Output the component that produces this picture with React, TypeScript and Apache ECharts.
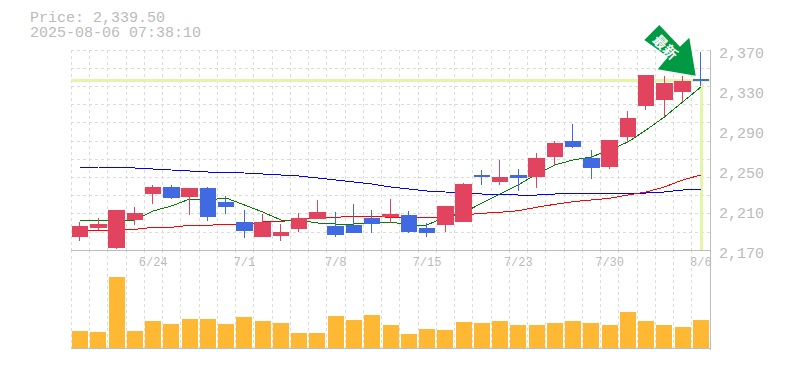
import React, { useEffect, useRef } from "react";
import * as echarts from "echarts";

const categories = ["6/18","6/19","6/20","6/23","6/24","6/25","6/26","6/27","6/30","7/1","7/2","7/3","7/4","7/7","7/8","7/9","7/10","7/11","7/14","7/15","7/16","7/17","7/18","7/22","7/23","7/24","7/25","7/28","7/29","7/30","7/31","8/1","8/4","8/5","8/6"];
const shownLabels = ["6/24","7/1","7/8","7/15","7/23","7/30","8/6"];
// open, close, low, high
const ohlc = [
  [2184,2194,2179,2198],[2193,2196,2190,2202],[2173,2210,2171,2210],[2201,2207,2195,2213],
  [2227,2233,2216,2235],[2233,2223,2221,2235],[2224,2232,2205,2232],[2232,2204,2199,2233],
  [2218,2214,2206,2224],[2198,2190,2182,2210],[2184,2198,2184,2206],[2185,2188,2179,2196],
  [2192,2202,2188,2207],[2202,2208,2202,2220],[2194,2186,2183,2208],[2195,2188,2187,2216],
  [2202,2197,2187,2210],[2204,2206,2197,2221],[2205,2189,2187,2209],[2192,2188,2183,2197],
  [2196,2214,2188,2214],[2199,2236,2199,2237],[2245,2244,2235,2250],[2239,2243,2235,2260],
  [2245,2243,2229,2251],[2244,2262,2232,2267],[2264,2277,2254,2279],[2279,2274,2272,2296],
  [2262,2253,2241,2270],[2254,2280,2251,2280],[2284,2302,2277,2309],[2315,2345,2310,2345],
  [2321,2337,2303,2344],[2329,2339,2318,2344],[2341,2339.5,2334,2368],
];
const maGreen = [2199.7,2199.7,2199.7,2200,2209,2214,2221,2220,2222,2215,2208,2200,2200,2197,2196,2196,2197,2198,2195,2195,2203,2207,2217,2226,2235,2246,2255,2260,2263,2270,2278,2290,2303,2318,2333];
const maRed = [2190,2190,2190,2190.7,2192.7,2192.7,2194.7,2194.7,2195.7,2195.7,2198,2198.5,2200.7,2202,2202.7,2203.7,2203.7,2202.7,2202.7,2202.7,2203,2205,2206.7,2207.7,2209.3,2212.7,2215.7,2218.3,2220,2221.7,2225,2228,2233,2240,2245];
const maBlue = [2253,2253,2252.5,2252,2251,2250,2249,2248,2248,2247,2246,2245,2244,2242,2240,2238,2236,2233,2231,2229,2228,2227,2226,2226,2225,2225,2226,2227,2227,2227,2227,2227,2228,2230,2231];
const volume = [17,16,71,17,27,24,29,29,24,31,27,25,15,15,32,28,33,23,14,19,18,26,25,27,23,23,25,27,25,23,36,27,23,21,28];
const priceTicks = [2170,2210,2250,2290,2330,2370];
const currentPrice = 2339.5;
const priceTitle = "Price: 2,339.50";
const timeTitle = "2025-08-06 07:38:10";
const arrowLabel = "最新";

const GRID = "#dcdcdc";
const AXIS = "#bdbdbd";
const TEXT = "#bbbbbb";
const FONT = "'Liberation Mono', monospace";
const HILITE = "#e3f5a8";
const ARROW = "#009944";

export default function App() {
  const ref = useRef<HTMLDivElement>(null);
  useEffect(() => {
    const chart = echarts.init(ref.current!, undefined, { renderer: "svg" });
    const splitLine = { show: true, lineStyle: { color: GRID, type: [3, 3] as any, width: 1 } };
    const maSeries = (data: number[], color: string) => ({
      type: "line", data, xAxisIndex: 0, yAxisIndex: 0, symbol: "none", z: 8,
      lineStyle: { color, width: 1 }, silent: true,
    });
    const titleStyle = { color: TEXT, fontFamily: FONT, fontSize: 15, fontWeight: "normal", lineHeight: 14 };
    chart.setOption({
      animation: false,
      backgroundColor: "#ffffff",
      title: [
        { text: priceTitle, left: 30, top: 11, padding: 0, textStyle: titleStyle },
        { text: timeTitle, left: 30, top: 26, padding: 0, textStyle: titleStyle },
      ],
      grid: [
        { left: 71, top: 50, width: 639, height: 200 },
        { left: 71, top: 250, width: 639, height: 100 },
      ],
      xAxis: [
        {
          type: "category", gridIndex: 0, data: categories, boundaryGap: true,
          axisLine: { show: true, lineStyle: { color: AXIS, width: 1 } },
          axisTick: { show: false },
          axisLabel: {
            interval: 0, color: TEXT, fontFamily: FONT, fontSize: 12, margin: 7,
            formatter: (v: string) => (shownLabels.includes(v) ? v : ""),
          },
          splitLine: { ...splitLine, interval: 0 },
        },
        {
          type: "category", gridIndex: 1, data: categories, boundaryGap: true,
          axisLine: { show: true, lineStyle: { color: AXIS, width: 1 } },
          axisTick: { show: false },
          axisLabel: { show: false },
          splitLine: { ...splitLine, interval: 0 },
        },
      ],
      yAxis: [
        {
          type: "value", gridIndex: 0, position: "right", min: 2170, max: 2370,
          axisLine: { show: true, lineStyle: { color: AXIS, width: 1 } },
          axisTick: { show: false },
          splitLine: { show: false },
          axisLabel: {
            customValues: priceTicks, margin: 9,
            formatter: (v: number) => `{a|${v.toLocaleString("en-US")}}`,
            rich: { a: { color: TEXT, fontFamily: FONT, fontSize: 15, padding: [8, 0, 0, 0] } },
          },
        },
        {
          type: "value", gridIndex: 0, position: "left", min: 0, max: 11, interval: 1,
          axisLine: { show: false }, axisTick: { show: false }, axisLabel: { show: false },
          splitLine,
        },
        {
          type: "value", gridIndex: 1, position: "right", min: -2, max: 98,
          axisLine: { show: true, lineStyle: { color: AXIS, width: 1 } },
          axisTick: { show: false }, axisLabel: { show: false }, splitLine: { show: false },
        },
      ],
      series: [
        {
          type: "line", xAxisIndex: 0, yAxisIndex: 0, data: [], z: 1, silent: true,
          markLine: {
            z: 1, silent: true, symbol: "none", label: { show: false }, animation: false,
            lineStyle: { color: HILITE, width: 3, type: "solid" },
            data: [
              { yAxis: currentPrice },
              [{ coord: [categories.length - 1, currentPrice] }, { coord: [categories.length - 1, 2170] }],
            ],
          },
        },
        maSeries(maBlue, "#0000ff"),
        maSeries(maRed, "#ff0000"),
        maSeries(maGreen, "#008000"),
        {
          type: "candlestick", xAxisIndex: 0, yAxisIndex: 0, z: 10,
          data: ohlc, barWidth: 16,
          itemStyle: { color: "#e2445f", color0: "#4169e1", borderColor: "#e2445f", borderColor0: "#4169e1", borderWidth: 1 },
        },
        {
          type: "bar", xAxisIndex: 1, yAxisIndex: 2, data: volume, barWidth: 16,
          itemStyle: { color: "#ffb833" },
        },
      ],
      graphic: [
        {
          type: "polygon", z: 20,
          shape: { points: [[644.3,40],[659.3,25],[680,46.7],[689.3,37.7],[695.7,75.7],[657.7,69.3],[668,57]] },
          style: { fill: ARROW },
        },
        {
          type: "text", z: 21, x: 666, y: 46.5, rotation: -Math.PI / 4,
          style: { text: arrowLabel, fill: "#ffffff", font: "bold 14px 'Noto Sans CJK JP'", align: "center", verticalAlign: "middle" },
        },
      ],
    });
    return () => chart.dispose();
  }, []);
  return (
    <>
      <style>{`svg path { shape-rendering: crispEdges; } svg path[fill="${ARROW}"] { shape-rendering: auto; }`}</style>
      <div ref={ref} style={{ position: "fixed", left: 0, top: 0, width: 785, height: 370 }} />
    </>
  );
}
